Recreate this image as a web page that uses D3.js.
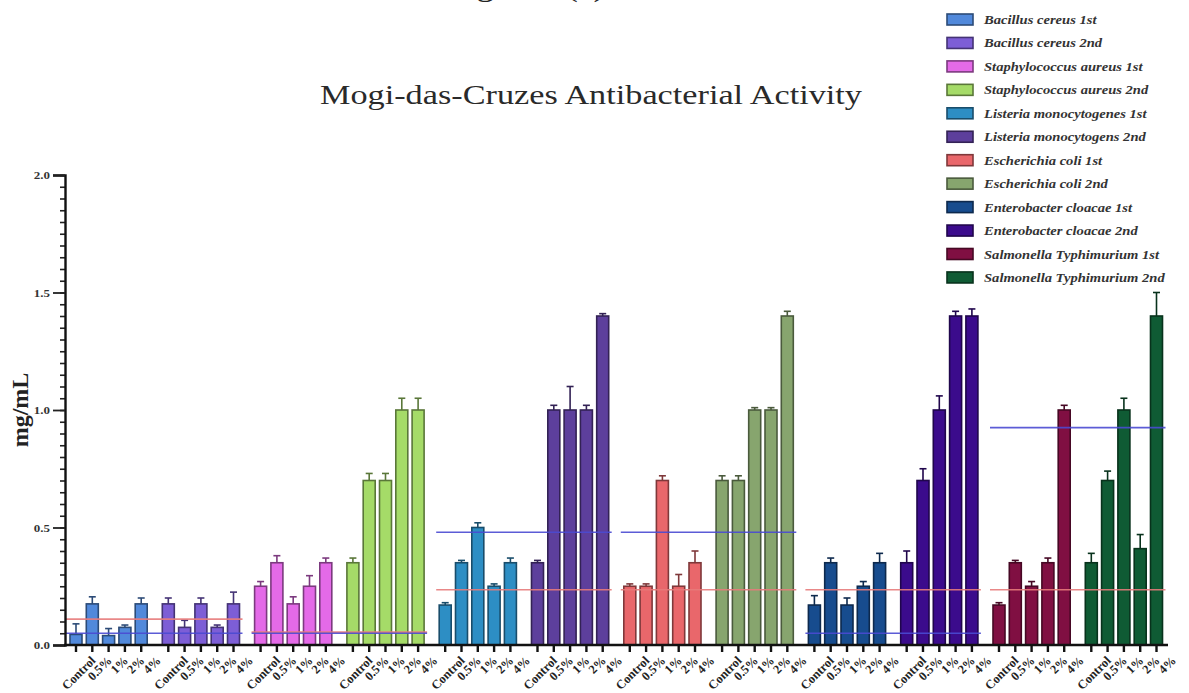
<!DOCTYPE html>
<html>
<head>
<meta charset="utf-8">
<script src="https://cdn.jsdelivr.net/npm/d3@7/dist/d3.min.js"></script>
<style>
  html, body { margin: 0; padding: 0; background: #ffffff; }
  svg { display: block; }
</style>
</head>
<body>
<svg id="chart" width="1189" height="693"></svg>
<script>
// ---- data -------------------------------------------------------------
const concentrations = ["Control", "0.5%", "1%", "2%", "4%"];

const seriesNames = [
  "Bacillus cereus 1st", "Bacillus cereus 2nd",
  "Staphylococcus aureus 1st", "Staphylococcus aureus 2nd",
  "Listeria monocytogenes 1st", "Listeria monocytogens 2nd",
  "Escherichia coli 1st", "Escherichia coli 2nd",
  "Enterobacter cloacae 1st", "Enterobacter cloacae 2nd",
  "Salmonella Typhimurium 1st", "Salmonella Typhimurium 2nd"
];

const seriesColors = [
  "#5189db", "#7d5ed6", "#e46ae8", "#a5db68", "#2d8ec4", "#5d3f9c",
  "#e9676b", "#87a56e", "#174c8e", "#3b0b8c", "#800f42", "#0f5b34"
];

// mean values (mg/mL) per concentration
const bacillus1st   = [0.045, 0.175, 0.04, 0.075, 0.175];
const bacillus2nd   = [0.175, 0.075, 0.175, 0.075, 0.175];
const staph1st      = [0.25, 0.35, 0.175, 0.25, 0.35];
const staph2nd      = [0.35, 0.70, 0.70, 1.00, 1.00];
const listeria1st   = [0.17, 0.35, 0.50, 0.25, 0.35];
const listeria2nd   = [0.35, 1.00, 1.00, 1.00, 1.40];
const ecoli1st      = [0.25, 0.25, 0.70, 0.25, 0.35];
const ecoli2nd      = [0.70, 0.70, 1.00, 1.00, 1.40];
const entero1st     = [0.17, 0.35, 0.17, 0.25, 0.35];
const entero2nd     = [0.35, 0.70, 1.00, 1.40, 1.40];
const salmonella1st = [0.17, 0.35, 0.25, 0.35, 1.00];
const salmonella2nd = [0.35, 0.70, 1.00, 0.41, 1.40];

// standard deviations (upper error bars)
const bacillus1stSD   = [0.045, 0.03, 0.03, 0.01, 0.025];
const bacillus2ndSD   = [0.025, 0.03, 0.025, 0.01, 0.05];
const staph1stSD      = [0.02, 0.03, 0.03, 0.045, 0.02];
const staph2ndSD      = [0.02, 0.03, 0.03, 0.05, 0.05];
const listeria1stSD   = [0.01, 0.01, 0.02, 0.01, 0.02];
const listeria2ndSD   = [0.01, 0.02, 0.10, 0.02, 0.01];
const ecoli1stSD      = [0.01, 0.01, 0.02, 0.05, 0.05];
const ecoli2ndSD      = [0.02, 0.02, 0.01, 0.01, 0.02];
const entero1stSD     = [0.04, 0.02, 0.03, 0.02, 0.04];
const entero2ndSD     = [0.05, 0.05, 0.06, 0.02, 0.03];
const salmonella1stSD = [0.01, 0.01, 0.02, 0.02, 0.02];
const salmonella2ndSD = [0.04, 0.04, 0.05, 0.06, 0.10];

// reference levels, one per species (spanning its 1st and 2nd runs)
const speciesPairs = ["Bacillus cereus", "Staphylococcus aureus", "Listeria monocytogenes",
                      "Escherichia coli", "Enterobacter cloacae", "Salmonella Typhimurium"];
const redLevels  = [0.11, 0.055, 0.235, 0.235, 0.235, 0.235];
const blueLevels = [0.05, 0.05, 0.48, 0.48, 0.05, 0.925];

const yTickValues = [0, 0.5, 1.0, 1.5, 2.0];

const seriesMeans = [bacillus1st, bacillus2nd, staph1st, staph2nd, listeria1st, listeria2nd,
                     ecoli1st, ecoli2nd, entero1st, entero2nd, salmonella1st, salmonella2nd];
const seriesSD = [bacillus1stSD, bacillus2ndSD, staph1stSD, staph2ndSD, listeria1stSD, listeria2ndSD,
                  ecoli1stSD, ecoli2ndSD, entero1stSD, entero2ndSD, salmonella1stSD, salmonella2ndSD];

// ---- layout -----------------------------------------------------------
const svg = d3.select("#chart");
const SERIF = "'Liberation Serif', 'DejaVu Serif', serif";
const WIDEN = 1.18;               // horizontal widening applied to text

function widen(sel, k) {
  sel.each(function () {
    const len = this.getComputedTextLength();
    d3.select(this).attr("textLength", len * k).attr("lengthAdjust", "spacingAndGlyphs");
  });
}

const axisX = 65;
const y = d3.scaleLinear().domain([0, 2]).range([645, 175]);

const xGroup = d3.scaleBand()
  .domain(seriesNames)
  .range([62.45, 1170.05])
  .paddingInner(0.1636)
  .paddingOuter(0.0818);

const xBar = d3.scaleBand()
  .domain(concentrations)
  .range([0, xGroup.bandwidth()])
  .paddingInner(0.264)
  .paddingOuter(0);

const rows = [];
seriesNames.forEach((s, si) => {
  concentrations.forEach((c, ci) => {
    rows.push({ series: s, si, conc: c, value: seriesMeans[si][ci], sd: seriesSD[si][ci] });
  });
});

const strokeOf = si => d3.color(seriesColors[si]).darker(1.7).formatHex();

// ---- caption line running off the top edge ----------------------------
svg.append("text")
  .attr("x", 447).attr("y", -4)
  .attr("font-family", SERIF).attr("font-size", 30).attr("fill", "#222")
  .text("Figure 1(a)")
  .call(widen, WIDEN);

// ---- title --------------------------------------------------------------
svg.append("text")
  .attr("x", 320).attr("y", 104)
  .attr("font-family", SERIF).attr("font-size", 28).attr("fill", "#2a2a2a")
  .text("Mogi-das-Cruzes Antibacterial Activity")
  .attr("textLength", 542).attr("lengthAdjust", "spacingAndGlyphs");

// ---- bars ---------------------------------------------------------------
const plot = svg.append("g");

plot.selectAll("rect.bar")
  .data(rows)
  .join("rect")
  .attr("class", "bar")
  .attr("x", d => xGroup(d.series) + xBar(d.conc))
  .attr("width", xBar.bandwidth())
  .attr("y", d => y(d.value))
  .attr("height", d => y(0) - y(d.value))
  .attr("fill", d => seriesColors[d.si])
  .attr("stroke", d => strokeOf(d.si))
  .attr("stroke-width", 1.6);

// upper error bars
const err = plot.selectAll("g.err").data(rows).join("g").attr("class", "err")
  .attr("stroke", d => strokeOf(d.si)).attr("stroke-width", 1.6);
err.append("line")
  .attr("x1", d => xGroup(d.series) + xBar(d.conc) + xBar.bandwidth() / 2)
  .attr("x2", d => xGroup(d.series) + xBar(d.conc) + xBar.bandwidth() / 2)
  .attr("y1", d => y(d.value))
  .attr("y2", d => y(d.value + d.sd));
err.append("line")
  .attr("x1", d => xGroup(d.series) + xBar(d.conc) + xBar.bandwidth() / 2 - 3.5)
  .attr("x2", d => xGroup(d.series) + xBar(d.conc) + xBar.bandwidth() / 2 + 3.5)
  .attr("y1", d => y(d.value + d.sd))
  .attr("y2", d => y(d.value + d.sd));

// ---- reference lines per species --------------------------------------
const spanOf = i => {
  const a = seriesNames[2 * i], b = seriesNames[2 * i + 1];
  return [i === 0 ? axisX : xGroup(a) - 3, xGroup(b) + xGroup.bandwidth() + 3];
};
speciesPairs.forEach((sp, i) => {
  const [x0, x1] = spanOf(i);
  plot.append("line").attr("x1", x0).attr("x2", x1)
    .attr("y1", y(redLevels[i])).attr("y2", y(redLevels[i]))
    .attr("stroke", "#e77b7b").attr("stroke-width", 1.6).attr("stroke-opacity", 0.9);
  plot.append("line").attr("x1", x0).attr("x2", x1)
    .attr("y1", y(blueLevels[i])).attr("y2", y(blueLevels[i]))
    .attr("stroke", "#4a4ad2").attr("stroke-width", 1.6).attr("stroke-opacity", 0.9);
});

// ---- y axis -------------------------------------------------------------
const minorTicks = d3.range(0, 2.0001, 0.05);
svg.append("g")
  .attr("transform", `translate(${axisX},0)`)
  .call(d3.axisLeft(y).tickValues(minorTicks).tickSize(5).tickFormat(""))
  .call(g => g.select(".domain").remove())
  .call(g => g.selectAll("line").attr("stroke", "#222").attr("stroke-width", 1.6));

const yAxis = svg.append("g")
  .attr("transform", `translate(${axisX},0)`)
  .call(d3.axisLeft(y).tickValues(yTickValues).tickSize(12).tickPadding(3).tickFormat(d3.format(".1f")));
yAxis.select(".domain").attr("stroke", "#111").attr("stroke-width", 2.4);
yAxis.selectAll(".tick line").attr("stroke", "#222").attr("stroke-width", 1.8);
yAxis.selectAll(".tick text")
  .attr("font-family", SERIF).attr("font-weight", "bold").attr("font-size", 11)
  .attr("fill", "#333")
  .call(widen, WIDEN);

svg.append("text")
  .attr("transform", `translate(28,${y(1)}) rotate(-90)`)
  .attr("text-anchor", "middle")
  .attr("font-family", SERIF).attr("font-weight", "bold").attr("font-size", 24)
  .attr("fill", "#222")
  .text("mg/mL");

// ---- x axis -------------------------------------------------------------
svg.append("line")
  .attr("x1", axisX - 1).attr("x2", 1168)
  .attr("y1", y(0)).attr("y2", y(0))
  .attr("stroke", "#111").attr("stroke-width", 2.4);

seriesNames.forEach(s => {
  const g = svg.append("g")
    .attr("transform", `translate(${xGroup(s)},${y(0)})`)
    .call(d3.axisBottom(xBar).tickSize(7).tickPadding(2));
  g.select(".domain").remove();
  g.selectAll(".tick line").attr("stroke", "#111").attr("stroke-width", 2.4);
  g.selectAll(".tick text")
    .attr("font-family", SERIF).attr("font-weight", "bold").attr("font-size", 12.5)
    .attr("fill", "#222")
    .attr("text-anchor", "end")
    .attr("transform", "translate(6,2) rotate(-45)")
    .attr("dy", "0.9em");
});

// ---- legend -------------------------------------------------------------
const legend = svg.append("g").attr("transform", "translate(947,19.5)");
const item = legend.selectAll("g").data(seriesNames).join("g")
  .attr("transform", (d, i) => `translate(0,${i * 23.45})`);
item.append("rect")
  .attr("x", 0).attr("y", -5.5).attr("width", 26).attr("height", 11)
  .attr("fill", (d, i) => seriesColors[i])
  .attr("stroke", (d, i) => strokeOf(i)).attr("stroke-width", 1.6);
item.append("text")
  .attr("x", 37).attr("y", 4.5)
  .attr("font-family", SERIF).attr("font-style", "italic").attr("font-weight", "bold")
  .attr("font-size", 13).attr("fill", "#333")
  .text(d => d)
  .call(widen, 1.12);
</script>
</body>
</html>
